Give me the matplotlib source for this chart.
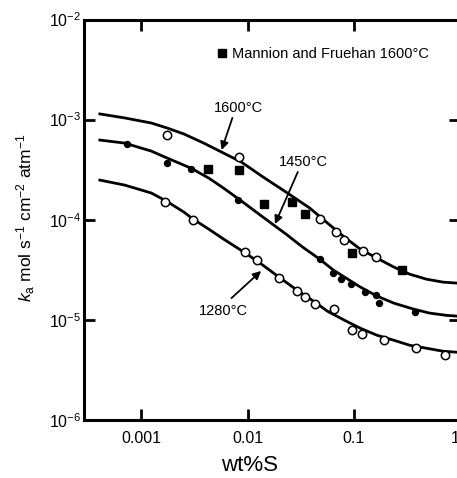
import numpy as np
import matplotlib
matplotlib.use('Agg')
import matplotlib.pyplot as plt

plt.rcParams['font.family'] = ['Liberation Sans', 'DejaVu Sans']
plt.rcParams['mathtext.fontset'] = 'custom'
plt.rcParams['mathtext.rm'] = 'Liberation Sans'
plt.rcParams['mathtext.it'] = 'Liberation Sans:italic'
plt.rcParams['mathtext.sf'] = 'Liberation Sans'

# measured points (wt%S, ka)
wt_1600 = [1.75e-3, 8.37e-3, 4.76e-2, 6.86e-2, 8.15e-2, 0.122, 0.162]
ka_1600 = [7.02e-4, 4.23e-4, 1.02e-4, 7.53e-5, 6.26e-5, 4.86e-5, 4.24e-5]

wt_mf = [4.20e-3, 8.37e-3, 1.43e-2, 2.61e-2, 3.45e-2, 9.66e-2, 0.283]
ka_mf = [3.21e-4, 3.13e-4, 1.44e-4, 1.50e-4, 1.14e-4, 4.65e-5, 3.14e-5]

wt_1450 = [7.25e-4, 1.75e-3, 2.92e-3, 8.18e-3, 4.76e-2, 6.43e-2, 7.64e-2,
           9.46e-2, 0.128, 0.162, 0.173, 0.373]
ka_1450 = [5.70e-4, 3.68e-4, 3.21e-4, 1.57e-4, 4.05e-5, 2.93e-5, 2.55e-5,
           2.28e-5, 1.89e-5, 1.77e-5, 1.47e-5, 1.19e-5]

wt_1280 = [1.67e-3, 3.05e-3, 9.53e-3, 1.23e-2, 1.97e-2, 2.90e-2, 3.45e-2,
           4.28e-2, 6.57e-2, 9.66e-2, 0.120, 0.192, 0.382, 0.726]
ka_1280 = [1.50e-4, 9.93e-5, 4.75e-5, 3.95e-5, 2.61e-5, 1.94e-5, 1.69e-5,
           1.44e-5, 1.28e-5, 7.88e-6, 7.19e-6, 6.26e-6, 5.21e-6, 4.44e-6]

# calculated curves
fit_x_1600 = [4.06e-4, 6.95e-4, 1.24e-3, 1.75e-3, 2.52e-3, 3.86e-3, 5.69e-3,
              8.73e-3, 1.40e-2, 2.30e-2, 3.84e-2, 5.65e-2, 8.15e-2, 0.115,
              0.165, 0.238, 0.336, 0.483, 0.695, 0.94]
fit_k_1600 = [1.14e-3, 1.04e-3, 9.25e-4, 8.24e-4, 7.18e-4, 5.83e-4, 4.74e-4,
              3.77e-4, 2.67e-4, 1.89e-4, 1.31e-4, 9.27e-5, 6.71e-5, 5.09e-5,
              4.14e-5, 3.37e-5, 2.86e-5, 2.55e-5, 2.38e-5, 2.33e-5]

fit_x_1450 = [4.06e-4, 6.95e-4, 1.24e-3, 1.75e-3, 2.92e-3, 4.30e-3, 5.94e-3,
              8.73e-3, 1.40e-2, 2.30e-2, 3.30e-2, 4.76e-2, 6.43e-2, 8.15e-2,
              0.115, 0.165, 0.238, 0.366, 0.515, 0.742, 0.94]
fit_k_1450 = [6.25e-4, 5.83e-4, 4.85e-4, 4.13e-4, 3.28e-4, 2.61e-4, 2.07e-4,
              1.54e-4, 1.06e-4, 7.19e-5, 5.33e-5, 4.05e-5, 3.14e-5, 2.68e-5,
              2.13e-5, 1.73e-5, 1.47e-5, 1.28e-5, 1.17e-5, 1.11e-5, 1.09e-5]

fit_x_1280 = [4.06e-4, 6.95e-4, 1.24e-3, 1.71e-3, 2.52e-3, 3.05e-3, 4.30e-3,
              5.94e-3, 9.53e-3, 1.31e-2, 1.97e-2, 2.90e-2, 4.28e-2, 5.65e-2,
              8.15e-2, 0.115, 0.165, 0.238, 0.336, 0.483, 0.695, 0.94]
fit_k_1280 = [2.49e-4, 2.22e-4, 1.85e-4, 1.54e-4, 1.19e-4, 1.02e-4, 8.07e-5,
              6.41e-5, 4.65e-5, 3.69e-5, 2.68e-5, 1.99e-5, 1.51e-5, 1.22e-5,
              9.93e-6, 8.26e-6, 7.03e-6, 6.26e-6, 5.58e-6, 5.21e-6, 4.86e-6,
              4.75e-6]

xticks = [1e-3, 1e-2, 1e-1, 1]
xlabels = ['0.001', '0.01', '0.1', '1']
yticks = [1e-6, 1e-5, 1e-4, 1e-3, 1e-2]
ylabels = ['$10^{-6}$', '$10^{-5}$', '$10^{-4}$', '$10^{-3}$', '$10^{-2}$']

fig = plt.figure(figsize=(4.57, 4.78), dpi=100)
ax = fig.add_axes([84/457, 58/478, 376/457, 400.5/478])

for xs, ks in [(fit_x_1600, fit_k_1600), (fit_x_1450, fit_k_1450), (fit_x_1280, fit_k_1280)]:
    ax.plot(xs, ks, color='black', lw=2, solid_joinstyle='round', zorder=2)

ax.plot(wt_1600, ka_1600, 'o', ms=6, mfc='white', mec='black', mew=1.1, zorder=3)
ax.plot(wt_1280, ka_1280, 'o', ms=6, mfc='white', mec='black', mew=1.1, zorder=3)
ax.plot(wt_1450, ka_1450, 'o', ms=4.3, color='black', zorder=3)
ax.plot(wt_mf, ka_mf, 's', ms=6, color='black', zorder=3,
        label='Mannion and Fruehan 1600°C')

ax.legend(loc='center left', bbox_to_anchor=(0.351, 0.914), frameon=False,
          fontsize=10.5, handlelength=0.8, handletextpad=0.3, borderpad=0,
          borderaxespad=0)

arrow = dict(arrowstyle='-|>', color='black', lw=1.3, mutation_scale=12,
             shrinkA=0, shrinkB=0)
ax.text(8.18e-3, 1.31e-3, '1600°C', ha='center', va='center', fontsize=10.5)
ax.annotate('', xy=(5.69e-3, 4.97e-4), xytext=(7.19e-3, 1.04e-3), arrowprops=arrow)
ax.text(3.37e-2, 3.77e-4, '1450°C', ha='center', va='center', fontsize=10.5)
ax.annotate('', xy=(1.81e-2, 9.06e-5), xytext=(2.97e-2, 3.0e-4), arrowprops=arrow)
ax.text(5.94e-3, 1.22e-5, '1280°C', ha='center', va='center', fontsize=10.5)
ax.annotate('', xy=(1.34e-2, 3.08e-5), xytext=(7.05e-3, 1.65e-5), arrowprops=arrow)

ax.set_xscale('log')
ax.set_yscale('log')
ax.set_xlim(10**-3.5405, 1)
ax.set_ylim(1e-6, 1e-2)
ax.set_xticks(xticks)
ax.set_xticklabels(xlabels)
ax.set_yticks(yticks)
ax.set_yticklabels(ylabels)
ax.minorticks_off()
ax.tick_params(which='major', direction='in', length=8, width=2,
               top=True, right=True, labelsize=11.5)
ax.tick_params(axis='x', pad=8)
ax.tick_params(axis='y', pad=2)
ax.get_xticklabels()[-1].set_horizontalalignment('right')
for s in ax.spines.values():
    s.set_linewidth(2.2)

ax.set_xlabel('wt%S', fontsize=16)
ax.xaxis.set_label_coords(0.44, -0.088)
ax.set_ylabel(r'$\mathit{k}_\mathrm{a}$ mol s$^{-1}$ cm$^{-2}$ atm$^{-1}$', fontsize=12.5)
ax.yaxis.set_label_coords(-0.124, 0.504)

fig.savefig('out.png', dpi=100)
